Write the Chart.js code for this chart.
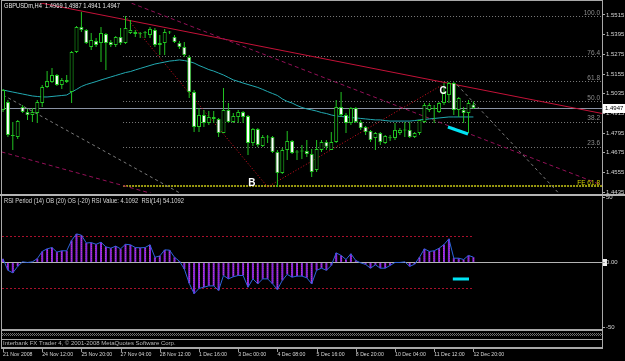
<!DOCTYPE html>
<html>
<head>
<meta charset="utf-8">
<title>GBPUSDm H4</title>
<script src="https://cdn.jsdelivr.net/npm/chart.js@4.4.1/dist/chart.umd.min.js"></script>
<style>
  html, body { margin: 0; padding: 0; background: #000; }
  #wrap { position: relative; width: 625px; height: 361px; background: #000; overflow: hidden; }
  canvas { position: absolute; left: 0; }
  #main { top: 0; }
  #rsi { top: 195px; }
</style>
</head>
<body>
<div id="wrap">
  <canvas id="main" width="625" height="195"></canvas>
  <canvas id="rsi" width="625" height="166"></canvas>
</div>
<script>
// ---- values (H4 bars, index 0 = 21 Nov) ----
const dateLabels = ['21 Nov 2008', '24 Nov 12:00', '25 Nov 20:00', '27 Nov 04:00', '28 Nov 12:00', '1 Dec 16:00',
  '3 Dec 00:00', '4 Dec 08:00', '5 Dec 16:00', '8 Dec 20:00', '10 Dec 04:00', '11 Dec 12:00', '12 Dec 20:00'];
const dateBars = [0, 8, 16, 24, 32, 40, 48, 56, 64, 72, 80, 88, 96];

const open = [
  1.4936, 1.4984, 1.4783, 1.4771, 1.4954, 1.4923, 1.4905, 1.4917, 1.4978, 1.5076,
  1.5106, 1.5149, 1.5088, 1.5119, 1.5045, 1.5289, 1.5442, 1.5424, 1.5320, 1.5356,
  1.5344, 1.5399, 1.5350, 1.5332, 1.5381, 1.5344, 1.5405, 1.5411, 1.5399, 1.5403,
  1.5393, 1.5424, 1.5332, 1.5344, 1.5411, 1.5381, 1.5344, 1.5320, 1.5259, 1.5045,
  1.4832, 1.4905, 1.4856, 1.4893, 1.4881, 1.4795, 1.4936, 1.4862, 1.4893, 1.4923,
  1.4899, 1.4734, 1.4820, 1.4716, 1.4771, 1.4771, 1.4679, 1.4551, 1.4692, 1.4746,
  1.4679, 1.4683, 1.4685, 1.4667, 1.4570, 1.4692, 1.4740, 1.4692, 1.4740, 1.4954,
  1.4905, 1.4856, 1.4948, 1.4862, 1.4832, 1.4808, 1.4765, 1.4795, 1.4734, 1.4767,
  1.4765, 1.4795, 1.4814, 1.4814, 1.4771, 1.4795, 1.4862, 1.4936, 1.4942, 1.4923,
  1.4978, 1.5027, 1.5100, 1.4936, 1.4936, 1.4917, 1.4969];
const high = [
  1.5064, 1.4997, 1.4862, 1.4875, 1.4966, 1.4942, 1.4948, 1.4997, 1.5088, 1.5173,
  1.5192, 1.5155, 1.5131, 1.5149, 1.5295, 1.5448, 1.5533, 1.5430, 1.5405, 1.5375,
  1.5442, 1.5405, 1.5363, 1.5387, 1.5436, 1.5509, 1.5485, 1.5424, 1.5411, 1.5417,
  1.5442, 1.5436, 1.5393, 1.5430, 1.5417, 1.5393, 1.5356, 1.5350, 1.5271, 1.5058,
  1.4948, 1.4936, 1.4929, 1.4929, 1.4887, 1.5070, 1.4978, 1.4917, 1.4936, 1.4929,
  1.4905, 1.4826, 1.4826, 1.4783, 1.4783, 1.4777, 1.4692, 1.4704, 1.4808, 1.4753,
  1.4692, 1.4722, 1.4753, 1.4698, 1.4753, 1.4753, 1.4753, 1.4801, 1.4997, 1.5045,
  1.4917, 1.4954, 1.4954, 1.4875, 1.4838, 1.4814, 1.4801, 1.4801, 1.4783, 1.4783,
  1.4856, 1.4826, 1.4862, 1.4862, 1.4801, 1.4875, 1.4978, 1.4978, 1.4966, 1.4984,
  1.5100, 1.5106, 1.5106, 1.5015, 1.4954, 1.4997, 1.4987];
const low = [
  1.4923, 1.4771, 1.4692, 1.4759, 1.4917, 1.4875, 1.4862, 1.4856, 1.4954, 1.5070,
  1.5100, 1.5082, 1.5064, 1.5100, 1.4978, 1.5283, 1.5411, 1.5338, 1.5302, 1.5320,
  1.5228, 1.5180, 1.5320, 1.5320, 1.5332, 1.5338, 1.5399, 1.5381, 1.5375, 1.5375,
  1.5375, 1.5320, 1.5271, 1.5271, 1.5399, 1.5344, 1.5308, 1.5259, 1.5009, 1.4801,
  1.4801, 1.4832, 1.4844, 1.4856, 1.4771, 1.4795, 1.4856, 1.4856, 1.4856, 1.4856,
  1.4661, 1.4716, 1.4710, 1.4710, 1.4734, 1.4673, 1.4466, 1.4545, 1.4631, 1.4667,
  1.4631, 1.4637, 1.4649, 1.4527, 1.4557, 1.4679, 1.4692, 1.4692, 1.4734, 1.4893,
  1.4795, 1.4844, 1.4856, 1.4814, 1.4783, 1.4740, 1.4692, 1.4722, 1.4728, 1.4746,
  1.4753, 1.4783, 1.4771, 1.4765, 1.4765, 1.4783, 1.4856, 1.4923, 1.4856, 1.4917,
  1.4966, 1.4978, 1.4905, 1.4893, 1.4856, 1.4795, 1.4941];
const close = [
  1.5058, 1.4783, 1.4777, 1.4868, 1.4923, 1.4905, 1.4923, 1.4984, 1.5076, 1.5112,
  1.5149, 1.5088, 1.5119, 1.5106, 1.5289, 1.5442, 1.5424, 1.5344, 1.5363, 1.5332,
  1.5405, 1.5344, 1.5332, 1.5381, 1.5344, 1.5436, 1.5424, 1.5399, 1.5397, 1.5405,
  1.5430, 1.5332, 1.5344, 1.5411, 1.5409, 1.5350, 1.5320, 1.5271, 1.5045, 1.4832,
  1.4905, 1.4856, 1.4893, 1.4881, 1.4795, 1.4936, 1.4862, 1.4899, 1.4923, 1.4893,
  1.4734, 1.4820, 1.4722, 1.4771, 1.4768, 1.4679, 1.4551, 1.4692, 1.4746, 1.4673,
  1.4677, 1.4685, 1.4667, 1.4557, 1.4698, 1.4740, 1.4712, 1.4740, 1.4954, 1.4905,
  1.4856, 1.4948, 1.4862, 1.4826, 1.4801, 1.4753, 1.4795, 1.4740, 1.4777, 1.4763,
  1.4814, 1.4814, 1.4811, 1.4771, 1.4795, 1.4875, 1.4966, 1.4966, 1.4945, 1.4978,
  1.5045, 1.5100, 1.4936, 1.5009, 1.4917, 1.4978, 1.4947];

// teal moving average
const ma = [
  1.5058, 1.5051, 1.5045, 1.5039, 1.5033, 1.5027, 1.5021, 1.5018, 1.5015, 1.5015,
  1.5018, 1.5021, 1.5024, 1.5027, 1.5045, 1.5061, 1.5079, 1.5091, 1.5100, 1.5109,
  1.5119, 1.5128, 1.5137, 1.5146, 1.5155, 1.5164, 1.5170, 1.5180, 1.5189, 1.5198,
  1.5207, 1.5216, 1.5222, 1.5228, 1.5234, 1.5237, 1.5241, 1.5237, 1.5231, 1.5222,
  1.5207, 1.5195, 1.5182, 1.5173, 1.5161, 1.5149, 1.5134, 1.5119, 1.5110, 1.5100,
  1.5091, 1.5082, 1.5073, 1.5061, 1.5048, 1.5036, 1.5024, 1.5003, 1.4988, 1.4978,
  1.4963, 1.4951, 1.4942, 1.4936, 1.4929, 1.4920, 1.4914, 1.4905, 1.4899, 1.4896,
  1.4893, 1.4890, 1.4887, 1.4884, 1.4881, 1.4878, 1.4875, 1.4875, 1.4871, 1.4868,
  1.4868, 1.4868, 1.4868, 1.4868, 1.4871, 1.4875, 1.4878, 1.4881, 1.4884, 1.4887,
  1.4890, 1.4893, 1.4893, 1.4893, 1.4893, 1.4893, 1.4893];

// RSI(14) - 50
const rsi = [
  2.8, -6, -8, -3, 0.5, 0, 0.5, 3, 8.5, 10.5,
  11.5, 8, 9, 9, 17, 22, 21, 15, 15.3, 14,
  15.6, 12, 11, 12.6, 10.5, 14, 13.6, 11.5, 11.3, 11.5,
  13.6, 4, 5, 9.7, 9.5, 4, 1, -5, -16, -24,
  -20, -19, -18, -18, -21.5, -10, -12.6, -11, -10, -10,
  -19, -12.6, -16.4, -12.6, -12.6, -16.4, -20.8, -13.8, -9.2, -11.3,
  -10.5, -10.5, -11.8, -16.4, -6, -4.4, -6, -2.3, 7.4, 5.4,
  2.3, 6.7, 1.5, -0.3, -1.5, -4.4, -1.8, -4.4, -4.4, -2.3,
  0, 0, 0.5, -3, -1.3, 4, 10.5, 8.5, 9, 11,
  13.8, 18.2, 3.3, 3.3, 2.3, 5.4, 4.1];

const priceTicks = [1.4435, 1.4555, 1.4675, 1.4795, 1.4915, 1.5035, 1.5155, 1.5275, 1.5395, 1.5515];
const rsiTicks = [50, 0, -50];
const rsiLevels = [20, -20];
const lastPrice = 1.4947;

// fibonacci retracement A -> B, and the FE 61.8 level
const fibLevels = [100, 76.4, 61.8, 50, 38.2, 23.6];
const fibHigh = 1.5509;
const fibLow = 1.4466;
const fibStartBar = 24.5;
const fe618 = 1.4472;

// drawn objects, as [bar, price] anchors
const redTrend = [[60.6, 1.5277], [121.8, 1.4917]];
const magentaTop = [[24.5, 1.5607], [122.2, 1.4478]];
const magentaLow = [[-0.2, 1.4679], [30, 1.4429]];
const grayLeft = [[0, 1.5027], [36.1, 1.4429]];
const grayRight = [[92.7, 1.5088], [113.7, 1.4419]];
const zigzag = [[24.9, 1.5509], [54, 1.4466], [89.6, 1.5088]];
const cyanMain = [[90.8, 1.4832], [94.9, 1.4789]];
const cyanRsi = [[91.8, -12.7], [95.1, -12.7]];
const letterB = [50.8, 1.4490];
const letterC = [89.8, 1.5051];

const headMain = 'GBPUSDm,H4  1.4969 1.4987 1.4941 1.4947';
const headRsi = 'RSI Period (14) OB (20) OS (-20) RSI Value: 4.1092  RSI(14) 54.1092';
const copyright = 'Interbank FX Trader 4, \u00a9 2001-2008 MetaQuotes Software Corp.';

// ---- helpers ----
const FONT = '"Liberation Sans", Arial, sans-serif';
const xMin = -0.2041, xMax = 122.245;
Chart.defaults.font.family = FONT;

function seg(ctx, x1, y1, x2, y2, color, dash, width) {
  ctx.save();
  ctx.strokeStyle = color;
  ctx.lineWidth = width;
  ctx.setLineDash(dash);
  ctx.beginPath();
  ctx.moveTo(x1, y1);
  ctx.lineTo(x2, y2);
  ctx.stroke();
  ctx.restore();
}

function trend(chart, pts, color, dash, width, back, fwd) {
  const { x, y } = chart.scales;
  const x1 = x.getPixelForValue(pts[0][0]), y1 = y.getPixelForValue(pts[0][1]);
  const x2 = x.getPixelForValue(pts[1][0]), y2 = y.getPixelForValue(pts[1][1]);
  const t0 = back ? -30 : 0, t1 = fwd ? 30 : 1;
  seg(chart.ctx, x1 + (x2 - x1) * t0, y1 + (y2 - y1) * t0, x1 + (x2 - x1) * t1, y1 + (y2 - y1) * t1, color, dash, width);
}

function hline(ctx, x1, x2, py, color, dash, width) {
  const yy = width % 2 ? Math.round(py) + 0.5 : Math.round(py);
  seg(ctx, x1, yy, x2, yy, color, dash, width);
}

function text(ctx, s, px, py, color, font, align, maxW) {
  ctx.save();
  ctx.font = font;
  ctx.fillStyle = color;
  ctx.textAlign = align || 'left';
  ctx.textBaseline = 'middle';
  if (maxW) ctx.fillText(s, px, py, maxW); else ctx.fillText(s, px, py);
  ctx.restore();
}

// ---- main price panel ----
const bars = open.map((_, i) => i);
const bodyFill = bars.map(i => close[i] >= open[i] ? '#000000' : '#ffffff');

const mainDecor = {
  id: 'mainDecor',
  beforeDatasetsDraw(chart) {
    const { ctx, chartArea: a, scales: { x, y } } = chart;
    ctx.save();
    ctx.beginPath();
    ctx.rect(a.left, a.top, a.right - a.left, a.bottom - a.top);
    ctx.clip();

    hline(ctx, a.left, a.right, y.getPixelForValue(lastPrice), '#8a92a4', [], 1);

    const fx = x.getPixelForValue(fibStartBar);
    fibLevels.forEach(f => {
      hline(ctx, fx, a.right, y.getPixelForValue(fibLow + (fibHigh - fibLow) * f / 100), '#7c7c7c', [1, 2], 1);
    });
    hline(ctx, fx, a.right, y.getPixelForValue(fe618), '#9a9a10', [2, 1], 2);

    trend(chart, redTrend, '#c41238', [], 1, true, true);
    trend(chart, magentaTop, '#941058', [4, 3], 1, true, true);
    trend(chart, magentaLow, '#941058', [4, 3], 1, true, true);
    trend(chart, grayLeft, '#7a7a7a', [3, 3], 1, false, true);
    trend(chart, grayRight, '#7a7a7a', [3, 3], 1, false, true);

    ctx.save();
    ctx.strokeStyle = '#d81020';
    ctx.lineWidth = 1;
    ctx.setLineDash([1, 2]);
    ctx.beginPath();
    zigzag.forEach((p, k) => {
      const px = x.getPixelForValue(p[0]), py = y.getPixelForValue(p[1]);
      if (k) ctx.lineTo(px, py); else ctx.moveTo(px, py);
    });
    ctx.stroke();
    ctx.restore();

    ctx.restore();
  },
  afterDatasetsDraw(chart) {
    const { ctx, chartArea: a, scales: { x, y } } = chart;
    trend(chart, cyanMain, '#00e4f4', [], 3, false, false);

    text(ctx, 'B', x.getPixelForValue(letterB[0]), y.getPixelForValue(letterB[1]), '#ffffff', 'bold 10px ' + FONT, 'center');
    text(ctx, 'C', x.getPixelForValue(letterC[0]), y.getPixelForValue(letterC[1]), '#ffffff', 'bold 10px ' + FONT, 'center');

    fibLevels.forEach(f => {
      const py = y.getPixelForValue(fibLow + (fibHigh - fibLow) * f / 100);
      text(ctx, f.toFixed(1), a.right - 2, py - 3, '#8c8c8c', '6.5px ' + FONT, 'right');
    });
    text(ctx, 'FE 61.8', a.right - 2, y.getPixelForValue(fe618) - 3, '#d0d000', '6.5px ' + FONT, 'right');
  },
  afterDraw(chart) {
    const { ctx, chartArea: a, scales: { y } } = chart;
    ctx.save();
    ctx.fillStyle = '#a8a8a8';
    ctx.fillRect(1, 0, 1, 195);
    ctx.fillRect(1, 0, a.right - 1, 1);
    ctx.fillRect(a.right, 0, 1, 195);
    ctx.fillStyle = '#b4b4b4';
    ctx.fillRect(0, 194, 625, 1);

    const py = Math.round(y.getPixelForValue(lastPrice));
    ctx.fillStyle = '#ffffff';
    ctx.fillRect(603, py - 4, 22, 9);
    ctx.restore();
    text(ctx, lastPrice.toFixed(4), 605, py + 0.5, '#000000', '6px ' + FONT, 'left');
    text(ctx, headMain, 4, 6.5, '#e6e6e6', '7px ' + FONT, 'left', 116);
  }
};

new Chart(document.getElementById('main'), {
  type: 'bar',
  data: {
    datasets: [
      {
        type: 'bar',
        data: bars.map(i => ({ x: i, y: [open[i], close[i]] })),
        stack: 'candle',
        barThickness: 4,
        backgroundColor: bodyFill,
        borderColor: '#22c422',
        borderWidth: 1,
        borderSkipped: false,
        minBarLength: 1,
        inflateAmount: 0
      },
      {
        type: 'bar',
        data: bars.map(i => ({ x: i, y: [low[i], high[i]] })),
        stack: 'candle',
        barThickness: 1,
        backgroundColor: '#22c422',
        borderWidth: 0,
        inflateAmount: 0
      },
      {
        type: 'line',
        data: bars.map(i => ({ x: i, y: ma[i] })),
        borderColor: '#22aab2',
        borderWidth: 1,
        pointRadius: 0,
        tension: 0
      }
    ]
  },
  options: {
    responsive: false,
    animation: false,
    devicePixelRatio: 1,
    events: [],
    layout: { padding: { left: 2, top: 3, right: 0, bottom: 2 } },
    plugins: { legend: { display: false }, tooltip: { enabled: false } },
    scales: {
      x: { type: 'linear', display: false, min: xMin, max: xMax, offset: false },
      y: {
        type: 'linear',
        position: 'right',
        min: 1.44292,
        max: 1.55882,
        stacked: false,
        afterBuildTicks: s => { s.ticks = priceTicks.map(v => ({ value: v })); },
        afterFit: s => { s.width = 23; },
        grid: { drawOnChartArea: false, drawTicks: true, tickLength: 3, tickColor: '#a8a8a8' },
        border: { display: false },
        ticks: {
          color: '#d4d4d4',
          padding: 1,
          autoSkip: false,
          font: { size: 6, lineHeight: 0.01 },
          callback: v => v.toFixed(4)
        }
      }
    }
  },
  plugins: [mainDecor]
});

// ---- RSI panel ----
const pat = document.createElement('canvas');
pat.width = 2;
pat.height = 2;
const pctx = pat.getContext('2d');
pctx.fillStyle = '#8428e0';
pctx.fillRect(0, 0, 2, 2);
pctx.fillStyle = '#c83cc0';
pctx.fillRect(1, 1, 1, 1);
const histFill = pctx.createPattern(pat, 'repeat');

const rsiDecor = {
  id: 'rsiDecor',
  beforeDraw(chart) {
    const { ctx, scales: { y } } = chart;
    ctx.save();
    ctx.fillStyle = '#f0f0f0';
    ctx.fillRect(603, Math.round(y.getPixelForValue(0)) - 3, 4, 7);
    ctx.restore();
  },
  beforeDatasetsDraw(chart) {
    const { ctx, chartArea: a, scales: { x, y } } = chart;
    hline(ctx, a.left, a.right, y.getPixelForValue(0), '#b4b4b4', [], 1);
    rsiLevels.forEach(v => {
      hline(ctx, a.left, x.getPixelForValue(rsi.length - 1), y.getPixelForValue(v), '#a8102c', [2, 2], 1);
    });
  },
  afterDatasetsDraw(chart) {
    trend(chart, cyanRsi, '#00e4f4', [], 3, false, false);
  },
  afterDraw(chart) {
    const { ctx, chartArea: a, scales: { x } } = chart;
    const b = a.bottom;
    ctx.save();
    ctx.fillStyle = '#a8a8a8';
    ctx.fillRect(1, 0, 1, b + 20);
    ctx.fillRect(a.right, 0, 1, b + 20);
    ctx.fillStyle = '#b4b4b4';
    ctx.fillRect(0, 0, 625, 1);
    // bottom bands
    ctx.fillStyle = '#a8a8a8';
    ctx.fillRect(1, b, a.right - 1, 2);
    ctx.fillStyle = '#6c6c6c';
    for (let px = 2; px < a.right; px++) {
      for (let r = 0; r < 3; r++) {
        if ((px + r) % 2 === 0) ctx.fillRect(px, b + 4 + r, 1, 1);
      }
    }
    ctx.fillStyle = '#a8a8a8';
    ctx.fillRect(1, b + 10, a.right - 1, 1);
    ctx.fillRect(1, b + 18, a.right - 1, 2);
    ctx.fillStyle = '#9a9a9a';
    dateBars.forEach(v => ctx.fillRect(Math.round(x.getPixelForValue(v)), b + 20, 1, 3));
    ctx.restore();
    text(ctx, copyright, 3, b + 14.5, '#b8b8b8', '6px ' + FONT, 'left', 178);
    text(ctx, headRsi, 4, 6.5, '#d8d8d8', '7px ' + FONT, 'left', 180);
  }
};

new Chart(document.getElementById('rsi'), {
  type: 'bar',
  data: {
    datasets: [
      {
        type: 'line',
        data: rsi.map((v, i) => ({ x: i, y: v })),
        borderColor: '#2c64dc',
        borderWidth: 1,
        pointRadius: 0,
        tension: 0
      },
      {
        type: 'bar',
        data: rsi.map((v, i) => ({ x: i, y: v })),
        backgroundColor: histFill,
        barThickness: 2,
        inflateAmount: 0,
        borderWidth: 0
      }
    ]
  },
  options: {
    responsive: false,
    animation: false,
    devicePixelRatio: 1,
    events: [],
    layout: { padding: { left: 2, top: 2, right: 0, bottom: 0 } },
    plugins: { legend: { display: false }, tooltip: { enabled: false } },
    scales: {
      x: {
        type: 'linear',
        position: 'bottom',
        min: xMin,
        max: xMax,
        offset: false,
        afterBuildTicks: s => { s.ticks = dateBars.map(v => ({ value: v })); },
        afterFit: s => { s.height = 32; },
        grid: { drawOnChartArea: false, drawTicks: true, tickLength: 22, tickColor: 'rgba(0,0,0,0)' },
        border: { display: false },
        ticks: {
          align: 'start',
          padding: 0,
          maxRotation: 0,
          autoSkip: false,
          color: '#d4d4d4',
          font: { size: 5.2 },
          callback: v => dateLabels[dateBars.indexOf(v)]
        }
      },
      y: {
        type: 'linear',
        position: 'right',
        min: -51.2,
        max: 50.4,
        afterBuildTicks: s => { s.ticks = rsiTicks.map(v => ({ value: v })); },
        afterFit: s => { s.width = 23; },
        grid: { drawOnChartArea: false, drawTicks: true, tickLength: 3, tickColor: '#a8a8a8' },
        border: { display: false },
        ticks: {
          color: '#d4d4d4',
          padding: 1,
          autoSkip: false,
          font: { size: 6, lineHeight: 0.01 },
          callback: v => v === 0 ? '0.00' : String(v)
        }
      }
    }
  },
  plugins: [rsiDecor]
});
</script>
</body>
</html>
